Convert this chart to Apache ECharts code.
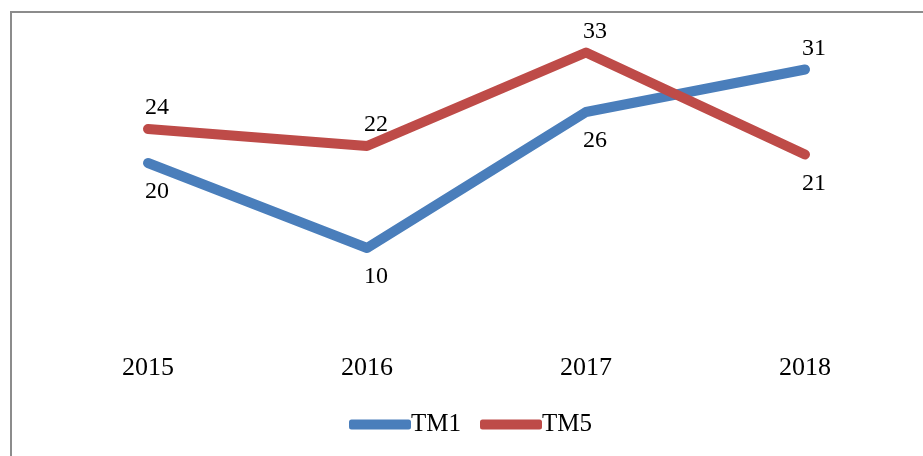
<!DOCTYPE html>
<html><head><meta charset="utf-8">
<script src="https://cdn.jsdelivr.net/npm/echarts@6/dist/echarts.min.js"></script>
<style>html,body{margin:0;padding:0;background:#fff}#c{width:923px;height:456px}</style>
</head><body><div id="c"></div>
<script>
var categories = ['2015', '2016', '2017', '2018'];
var tm1 = [20, 10, 26, 31];
var tm5 = [24, 22, 33, 21];
var tm1Pos = ['bottom', 'bottom', 'bottom', 'top'];
var tm5Pos = ['top', 'top', 'top', 'bottom'];

var font = "'Liberation Serif', 'Times New Roman', serif";
function mk(vals, pos) {
  return vals.map(function (v, i) {
    return { value: v, label: { position: pos[i], distance: pos[i] === 'top' ? 5 : 13 } };
  });
}
var chart = echarts.init(document.getElementById('c'), null, { renderer: 'canvas' });
chart.setOption({
  animation: false,
  backgroundColor: '#fff',
  graphic: [{
    type: 'rect', shape: { x: 11, y: 12, width: 1000, height: 1000 },
    style: { fill: 'none', stroke: '#8c8c8c', lineWidth: 2 }, z: 100
  }],
  grid: { left: 38.5, right: 8.5, top: 35.5, bottom: 123 },
  xAxis: {
    type: 'category', data: categories, boundaryGap: true,
    axisLine: { show: false }, axisTick: { show: false },
    axisLabel: { color: '#000', fontFamily: font, fontSize: 26, margin: 22 }
  },
  yAxis: {
    type: 'value', min: 0, max: 35, interval: 5,
    axisLine: { show: false }, axisTick: { show: false },
    axisLabel: { show: false }, splitLine: { show: false }
  },
  legend: {
    bottom: 14, left: 344, itemWidth: 62, itemHeight: 10, itemGap: 19,
    icon: 'roundRect',
    textStyle: { color: '#000', fontFamily: font, fontSize: 25, padding: [0, 0, 0, -5] },
    data: ['TM1', 'TM5']
  },
  series: [
    {
      name: 'TM1', type: 'line', data: mk(tm1, tm1Pos), showSymbol: true, symbol: 'circle', symbolSize: 8,
      lineStyle: { color: '#4a7ebb', width: 10, cap: 'round', join: 'round' },
      itemStyle: { color: '#4a7ebb' },
      label: { show: true, color: '#000', fontFamily: font, fontSize: 24, offset: [9, 0] }
    },
    {
      name: 'TM5', type: 'line', data: mk(tm5, tm5Pos), showSymbol: true, symbol: 'circle', symbolSize: 8,
      lineStyle: { color: '#be4b48', width: 10, cap: 'round', join: 'round' },
      itemStyle: { color: '#be4b48' },
      label: { show: true, color: '#000', fontFamily: font, fontSize: 24, offset: [9, 0] }
    }
  ]
});
</script></body></html>
